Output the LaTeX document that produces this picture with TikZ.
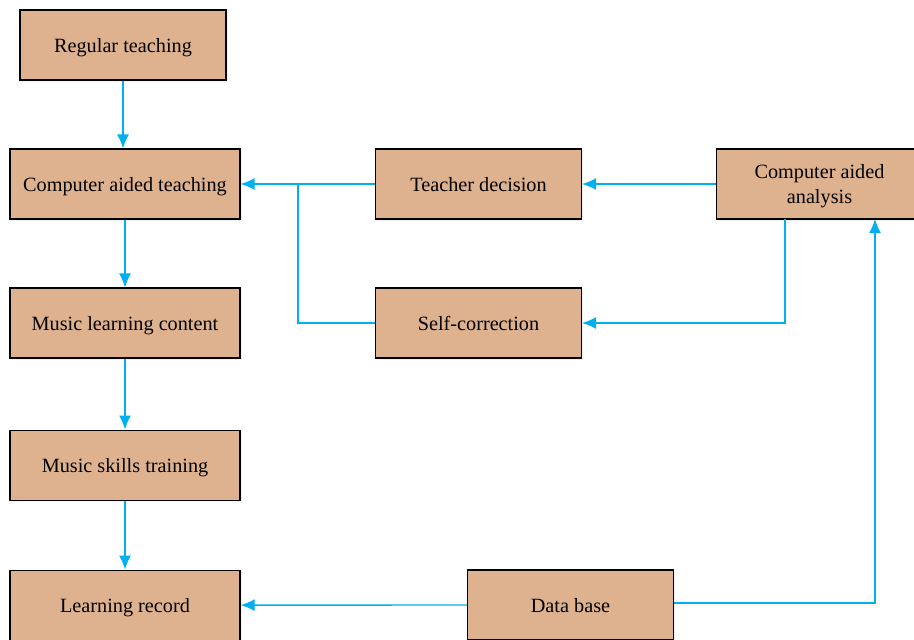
\documentclass[tikz,border=0pt]{standalone}
\usepackage{fontspec}
\setmainfont{Liberation Serif}
\usepackage{tikz}
\usetikzlibrary{positioning, arrows.meta, shadows}
\definecolor{boxfill}{RGB}{222,178,142}
\definecolor{flowblue}{RGB}{0,176,240}

\tikzset{
  block/.style = {draw = black, fill = boxfill, line width = 0.8pt,
    minimum height = 1.75cm, inner sep = 2pt, align = center, text depth = 0pt,
    font = \fontsize{14.4}{17.5}\selectfont,
    drop shadow = {opacity = 0.12, shadow xshift = 0.4mm, shadow yshift = -0.4mm}},
  wide/.style = {block, minimum width = 5.75cm},
  narrow/.style = {block, minimum width = 5.15cm},
  line/.style = {color = flowblue, line width = 1pt},
  flow/.style = {line, -{Latex[length = 3.5mm, width = 3mm]}}
}

\begin{document}
\begin{tikzpicture} [x = 0.025cm, y = 0.025cm, node distance = 3.5cm, on grid]
\useasboundingbox (0,0) rectangle (914,-639);
% left column
\node (rt) [narrow] at (123,-45) {Regular teaching};
\node (cat) [wide] at (125,-184) {Computer aided teaching};
\node (mlc) [wide, below = 3.475cm of cat] {Music learning content};
\node (mst) [wide, below = 3.55cm of mlc] {Music skills training};
\node (lr) [wide, below = of mst] {Learning record};
% right side
\node (td) [narrow] at (478.5,-184) {Teacher decision};
\node (sc) [narrow] at (478.5,-323) {Self-correction};
\node (caa) [narrow] at (819.5,-184) {Computer aided\\analysis};
\node (db) [narrow] at (570.5,-605) {Data base};
% bends
\coordinate (join) at (298,-184);
\coordinate (drop) at (785,-219);
\coordinate (rise) at (875,-219);
\draw [flow] (rt.south) -- (rt.south |- cat.north);
\draw [flow] (cat.south) -- (mlc.north);
\draw [flow] (mlc.south) -- (mst.north);
\draw [flow] (mst.south) -- (lr.north);
\draw [flow] (td.west) -- (cat.east);
\draw [flow] (caa.west) -- (td.east);
\draw [flow] (db.west) -- (lr.east);
\draw [line] (sc.west) -| (join);
\draw [flow] (drop) |- (sc.east);
\draw [flow] ([yshift = 0.05cm]db.east) -| (rise);
\end{tikzpicture}
\end{document}
